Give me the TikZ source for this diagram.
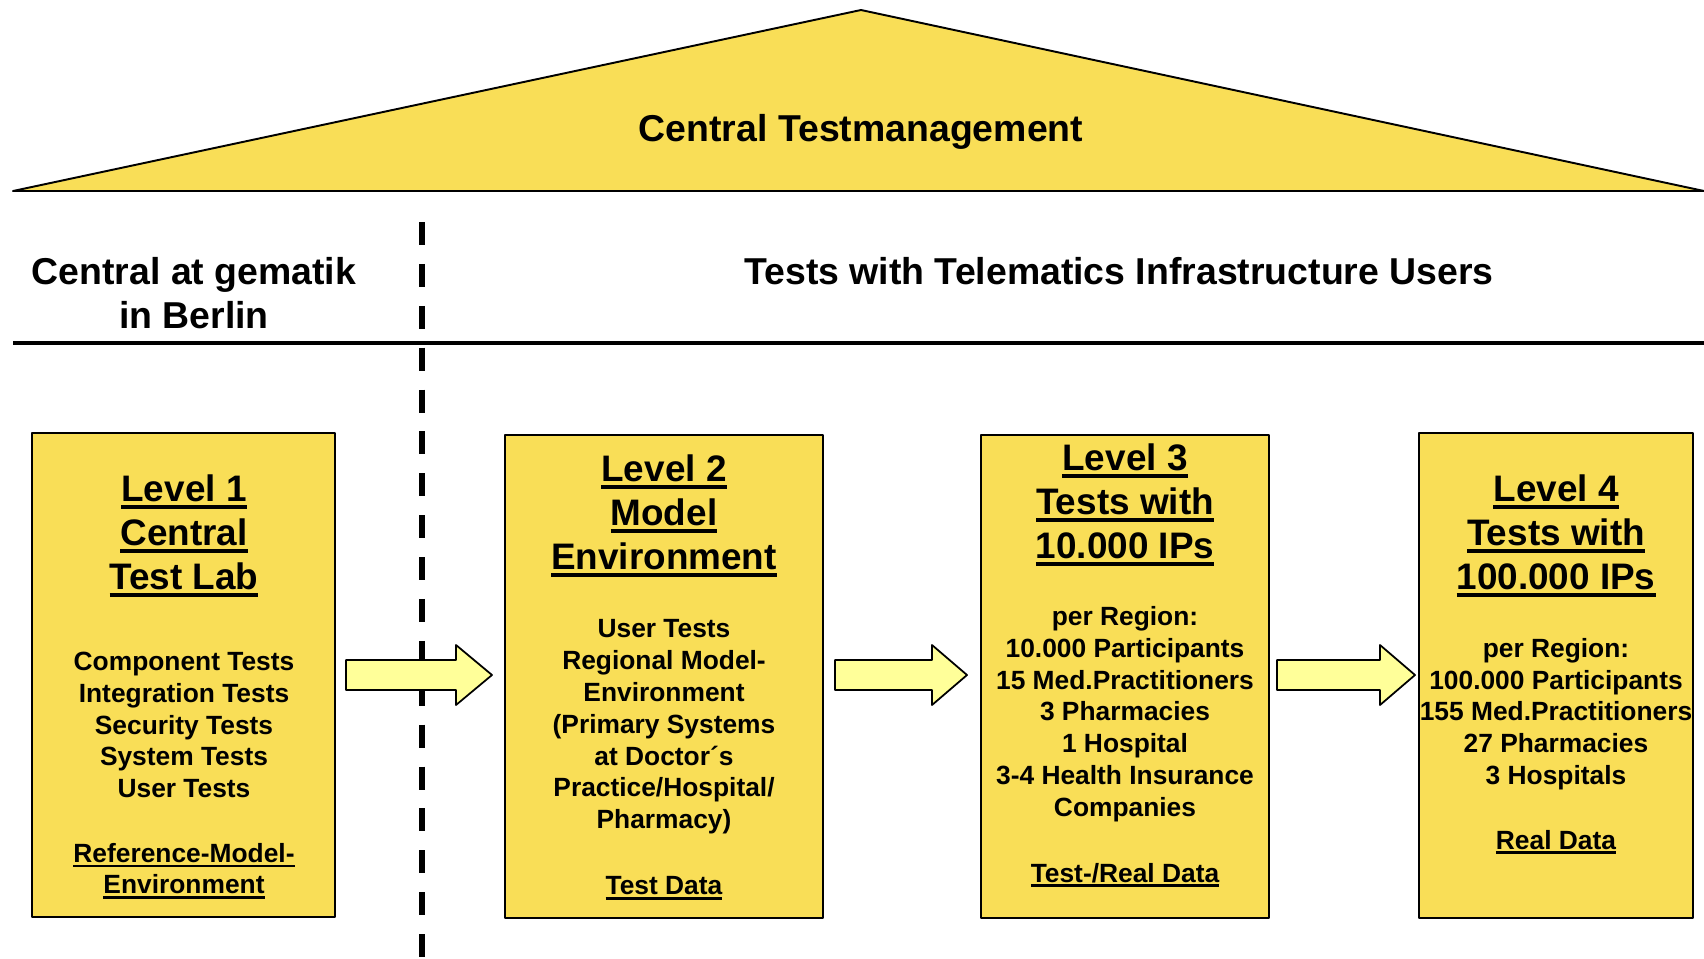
\documentclass[tikz,border=0pt]{standalone}
\usepackage{fontspec}
\setmainfont{Liberation Sans}
\definecolor{boxyellow}{RGB}{249,222,87}
\definecolor{arrowyellow}{RGB}{255,255,153}
\newcommand{\ulin}[1]{\leavevmode\setbox0=\hbox{#1}\rlap{\raisebox{-0.19em}{\rule{\wd0}{0.1em}}}\box0}
\begin{document}
\begin{tikzpicture}[x=0.02cm, y=-0.02cm, line join=round,
  head/.style={align=center, font=\fontsize{21.3}{25}\selectfont\bfseries},
  title/.style={align=center, font=\fontsize{21}{25}\selectfont\bfseries},
  body/.style={align=center, font=\fontsize{15}{18.1}\selectfont\bfseries},
  levelbox/.style={draw, line width=1pt, fill=boxyellow},
  blockarrow/.style={draw, line width=1pt, fill=arrowyellow}]
\useasboundingbox (0,0) rectangle (1704,958);

% roof
\path
(13,191) coordinate (roofL)
(861,10) coordinate (roofT)
(1704,191) coordinate (roofR)
;
\draw[fill=boxyellow, line width=1.1pt] (roofL)--(roofT)--(roofR)--cycle;
\node[head] (central) at (861,132) {Central Testmanagement};

% separators
\draw[line width=2.8pt] (13,343) coordinate (sepL) -- (1704,343) coordinate (sepR);
\draw[line width=3.4pt, dash pattern=on 13.1pt off 10.74pt] (422,222) coordinate (dashT) -- (422,958) coordinate (dashB);
\node[head] (berlin) at (194,293) {Central at gematik\\in Berlin};
\node[head] (users) at (1119,271) {Tests with Telematics Infrastructure Users};

% levels
\foreach \n/\l/\t/\r/\b in {1/32/433/335/917, 2/505/435/823/918, 3/981/435/1269/918, 4/1419/433/1693/918}
\draw[levelbox] (\l,\t) coordinate (box\n nw) rectangle (\r,\b) coordinate (box\n se);

\node[title] (title1) at (184,536) {\ulin{Level 1}\\\ulin{Central}\\\ulin{Test Lab}};
\node[body] (body1) at (184,725) {Component Tests\\Integration Tests\\Security Tests\\System Tests\\User Tests};
\node[body] (foot1) at (184,871) {\ulin{Reference-Model-}\\\ulin{Environment}};

\node[title] (title2) at (664,516) {\ulin{Level 2}\\\ulin{Model}\\\ulin{Environment}};
\node[body] (body2) at (664,727) {User Tests\\Regional Model-\\Environment\\(Primary Systems\\at Doctor´s\\Practice/Hospital/\\Pharmacy)};
\node[body] (foot2) at (664,888) {\ulin{Test Data}};

\node[title] (title3) at (1125,505) {\ulin{Level 3}\\\ulin{Tests with}\\\ulin{10.000 IPs}};
\node[body] (body3) at (1125,714) {per Region:\\10.000 Participants\\15 Med.Practitioners\\3 Pharmacies\\1 Hospital\\3-4 Health Insurance\\Companies};
\node[body] (foot3) at (1125,875) {\ulin{Test-/Real Data}};

\node[title] (title4) at (1556,536) {\ulin{Level 4}\\\ulin{Tests with}\\\ulin{100.000 IPs}};
\node[body] (body4) at (1556,714) {per Region:\\100.000 Participants\\155 Med.Practitioners\\27 Pharmacies\\3 Hospitals};
\node[body] (foot4) at (1556,842) {\ulin{Real Data}};

% arrows between levels
\foreach \a/\h/\b in {346/456/492, 835/932/967, 1277/1380/1415}
\draw[blockarrow] (\a,660)--(\h,660)--(\h,645)--(\b,675)--(\h,705)--(\h,690)--(\a,690)--cycle;
\end{tikzpicture}
\end{document}
